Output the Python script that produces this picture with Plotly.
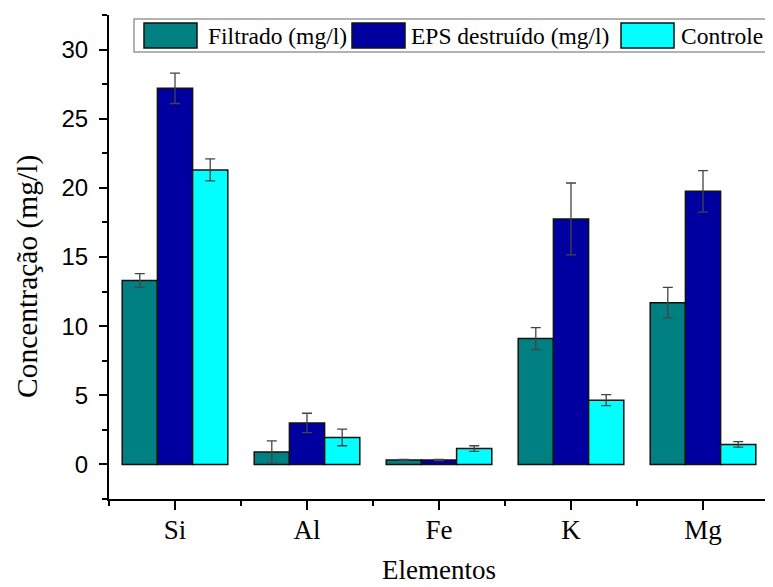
import plotly.graph_objects as go

categories = ["Si", "Al", "Fe", "K", "Mg"]
series_names = ["Filtrado (mg/l)", "EPS destruído (mg/l)", "Controle"]
filtrado = [13.3, 0.9, 0.32, 9.1, 11.7]
filtrado_err = [0.5, 0.8, 0.05, 0.8, 1.1]
eps = [27.2, 3.0, 0.32, 17.75, 19.75]
eps_err = [1.1, 0.7, 0.05, 2.6, 1.5]
controle = [21.3, 1.95, 1.15, 4.65, 1.45]
controle_err = [0.8, 0.6, 0.2, 0.4, 0.2]
colors = ["#008080", "#0000A0", "#00FFFF"]
y_ticks = [0, 5, 10, 15, 20, 25, 30]

# page has an 8px body margin: figure pixel = page pixel - 8
OFF = 8
W, H = 773, 587
ML = 109 - OFF
MT = 15 - OFF
MR = W - (769 - OFF)
MB = H - (499 - OFF)
PW, PH = W - ML - MR, H - MT - MB

def px(x):
    return (x - OFF - ML) / PW

def py(y):
    return (H - MB - (y - OFF)) / PH

xpos = list(range(len(categories)))
fig = go.Figure()
for name, vals, errs, col in zip(series_names, [filtrado, eps, controle],
                                 [filtrado_err, eps_err, controle_err], colors):
    fig.add_trace(go.Bar(
        x=xpos, y=vals, name=name, showlegend=False,
        marker=dict(color=col, line=dict(color="#111111", width=1.5)),
        error_y=dict(type="data", array=errs, visible=True,
                     color="#444444", thickness=1.3, width=5),
    ))

serif = "Liberation Serif, Times New Roman, serif"
fig.update_layout(
    width=W, height=H,
    margin=dict(l=ML, r=MR, t=MT, b=MB, autoexpand=False),
    paper_bgcolor="white", plot_bgcolor="white",
    barmode="group", bargap=0.2, bargroupgap=0,
    xaxis=dict(
        range=[-0.5, 4.5], tickmode="array", tickvals=xpos, ticktext=categories,
        ticks="outside", ticklen=9, tickwidth=2, tickcolor="black",
        showline=True, linecolor="black", linewidth=2, showgrid=False, zeroline=False,
        automargin=False,
        tickfont=dict(family=serif, size=27, color="black"),
        minor=dict(tickmode="array", tickvals=[-0.5, 0.5, 1.5, 2.5, 3.5, 4.5],
                   ticks="outside", ticklen=5, tickwidth=2, tickcolor="black"),
        ticklabelstandoff=-3,
    ),
    yaxis=dict(
        range=[-2.5, 32.5], tickmode="array", tickvals=y_ticks,
        ticks="outside", ticklen=8, tickwidth=2, tickcolor="black",
        showline=True, linecolor="black", linewidth=2, showgrid=False, zeroline=False,
        automargin=False,
        tickfont=dict(family="Liberation Sans, Arial, sans-serif", size=24, color="black"),
        minor=dict(tickmode="array", tickvals=[-2.5, 2.5, 7.5, 12.5, 17.5, 22.5, 27.5, 32.5],
                   ticks="outside", ticklen=5, tickwidth=2, tickcolor="black"),
        ticklabelstandoff=6,
    ),
)

# axis titles
fig.add_annotation(xref="paper", yref="paper", x=px(439), y=py(570),
                   xanchor="center", yanchor="middle", showarrow=False,
                   text="Elementos", font=dict(family=serif, size=27, color="black"))
fig.add_annotation(xref="paper", yref="paper", x=px(27), y=py(277),
                   xanchor="center", yanchor="middle", showarrow=False, textangle=-90,
                   text="Concentração (mg/l)", font=dict(family=serif, size=29.5, color="black"))

# legend box
fig.add_shape(type="rect", xref="paper", yref="paper",
              x0=px(134), x1=px(790), y0=py(52), y1=py(19),
              line=dict(color="#999999", width=1.5), fillcolor="white", layer="above")
sw_x = [144, 352, 621]
tx_x = [206, 409, 679]
for name, col, sx, tx in zip(series_names, colors, sw_x, tx_x):
    fig.add_shape(type="rect", xref="paper", yref="paper",
                  x0=px(sx), x1=px(sx + 53), y0=py(48), y1=py(23),
                  line=dict(color="#111111", width=1.5), fillcolor=col, layer="above")
    fig.add_annotation(xref="paper", yref="paper", x=px(tx), y=py(36),
                       xanchor="left", yanchor="middle", showarrow=False,
                       text=name, font=dict(family=serif, size=23.5, color="black"))

fig.write_html("out.html")
